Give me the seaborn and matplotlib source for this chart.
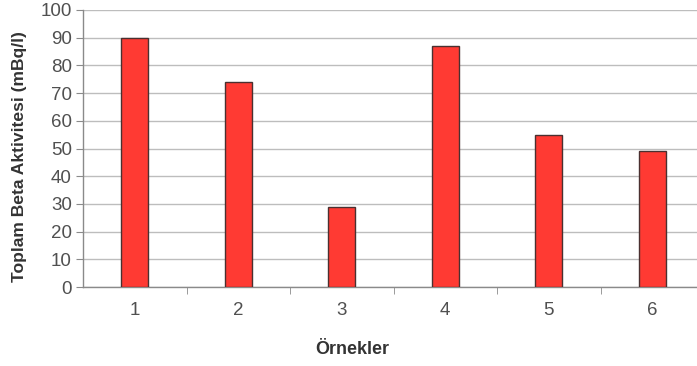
import matplotlib
matplotlib.use("Agg")
import matplotlib.pyplot as plt
import seaborn as sns
import pandas as pd

samples = ["1", "2", "3", "4", "5", "6"]
beta_activity = [90, 74, 29, 87, 55, 49]
y_ticks = [0, 10, 20, 30, 40, 50, 60, 70, 80, 90, 100]

df = pd.DataFrame({"sample": samples, "activity": beta_activity})

sns.set_style("white")
plt.rcParams["font.family"] = ["Liberation Sans", "DejaVu Sans"]

fig = plt.figure(figsize=(6.97, 3.66), dpi=100)
ax = fig.add_axes([83 / 697, 79 / 366, 621 / 697, 277 / 366])

sns.barplot(data=df, x="sample", y="activity", color="#ff3a33",
            width=0.26, edgecolor="#4a3030", linewidth=1.0,
            saturation=1, ax=ax, zorder=3)

ax.set_ylim(0, 100)
ax.set_xlim(-0.5, 5.5)
ax.set_yticks(y_ticks)
ax.yaxis.grid(True, color="#bdbdbd", linewidth=1.0, zorder=0)
ax.set_axisbelow(True)

for side in ["top", "right"]:
    ax.spines[side].set_visible(False)
for side in ["left", "bottom"]:
    ax.spines[side].set_color("#8a8a8a")
    ax.spines[side].set_linewidth(1.0)

ax.tick_params(axis="y", which="major", length=5, color="#8a8a8a",
               labelsize=13.5, labelcolor="#505050", pad=3, left=True)
ax.tick_params(axis="x", which="major", length=0, labelsize=13.5,
               labelcolor="#505050", pad=11)
ax.set_xticks([0.5, 1.5, 2.5, 3.5, 4.5], minor=True)
ax.tick_params(axis="x", which="minor", length=5, color="#8a8a8a", bottom=True)

ax.set_ylabel("Toplam Beta Aktivitesi (mBq/l)", fontsize=12.6,
              fontweight="bold", color="#333333")
ax.yaxis.set_label_coords(-(83 - 27) / 621, (287 - 157) / 277)
ax.set_xlabel("Örnekler", fontsize=13, fontweight="bold", color="#333333")
ax.xaxis.set_label_coords((352 - 83) / 621, -(341 - 287) / 277)

fig.savefig("out.png", dpi=100)
